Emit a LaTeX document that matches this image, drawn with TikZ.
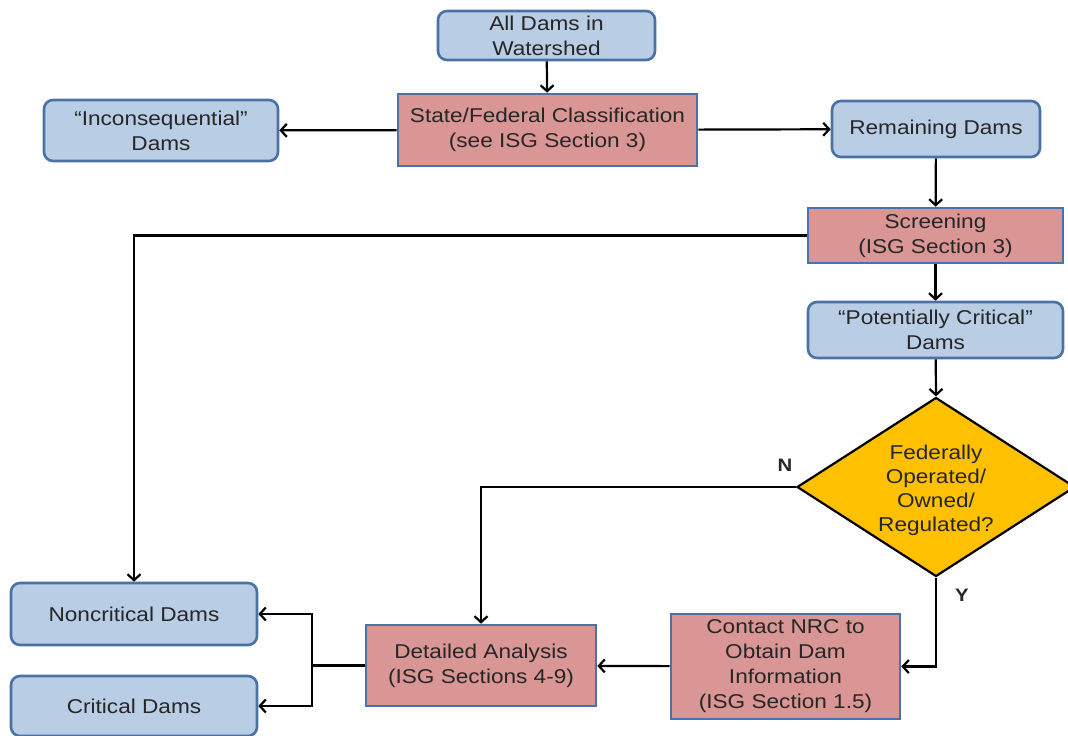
\documentclass[tikz,border=0pt]{standalone}
\usepackage{fontspec}
\setmainfont[FakeStretch=1.13]{Liberation Sans}
\usetikzlibrary{shapes.geometric,arrows.meta}
\definecolor{boxblue}{HTML}{B9CDE5}
\definecolor{boxred}{HTML}{D99694}
\definecolor{boxedge}{HTML}{4A72A6}
\definecolor{decgold}{HTML}{FFC000}
\begin{document}
\begin{tikzpicture}[x=1pt,y=-1pt,
  >={Straight Barb[length=6pt,width=13pt]},
  every node/.style={font=\fontsize{20}{25}\selectfont,align=center,text=black!85},
  blue_node/.style={rectangle,rounded corners=9pt,fill=boxblue,draw=boxedge,line width=2.6pt,inner sep=0pt},
  red_node/.style={rectangle,fill=boxred,draw=boxedge,line width=2.6pt,inner sep=0pt},
  dec_node/.style={diamond,fill=decgold,draw=black,line width=2.2pt,inner sep=0pt},
  link/.style={draw=black,line width=2.2pt}]

		\useasboundingbox (0,0) rectangle (1068,736);

		\node[blue_node,minimum width=217pt,minimum height=49pt] (all) at (546.5,35.5) {All Dams in\\Watershed};
		\node[red_node,minimum width=299pt,minimum height=72pt] (classif) at (547.5,130) {State/Federal Classification\\(see ISG Section 3)};
		\node[blue_node,minimum width=234pt,minimum height=61pt] (incons) at (161,130.5) {``Inconsequential''\\Dams};
		\node[blue_node,minimum width=208pt,minimum height=56pt] (remain) at (936,129) {Remaining Dams};
		\node[red_node,minimum width=255pt,minimum height=55pt] (screen) at (935.5,235.5) {Screening\\(ISG Section 3)};
		\node[blue_node,minimum width=255pt,minimum height=56pt] (potcrit) at (935.5,330) {``Potentially Critical''\\Dams};
		\node[dec_node,minimum width=278pt,minimum height=179pt] (dec) at (936,487) {};
		\node[font=\fontsize{20}{24}\selectfont] (dectext) at (936,490) {Federally\\Operated/\\Owned/\\Regulated?};
		\node[blue_node,minimum width=246pt,minimum height=62pt] (noncrit) at (134,614) {Noncritical Dams};
		\node[blue_node,minimum width=246pt,minimum height=60pt] (crit) at (134,706) {Critical Dams};
		\node[red_node,minimum width=230pt,minimum height=81pt] (detail) at (481,665.5) {Detailed Analysis\\(ISG Sections 4-9)};
		\node[red_node,minimum width=229pt,minimum height=105pt] (contact) at (785.5,666.5) {Contact NRC to\\Obtain Dam\\Information\\(ISG Section 1.5)};

		\node[font=\fontsize{18}{20}\selectfont\bfseries] (nlabel) at (785,465) {N};
		\node[font=\fontsize{18}{20}\selectfont\bfseries] (ylabel) at (962,595) {Y};
		\coordinate (split) at (312,665.5);

		\draw[link,->] (all) -- (classif);
		\draw[link,->] (classif) -- (incons);
		\draw[link,->] (classif) -- (remain);
		\draw[link,->] (remain) -- (screen);
		\draw[link,->] (screen.west) -| (noncrit.north);
		\draw[link,->] (screen) -- (potcrit);
		\draw[link,->] (potcrit) -- (dec.north);
		\draw[link,->] (dec.west) -| (detail.north);
		\draw[link,->] (dec.south) |- (contact.east);
		\draw[link,->] (contact) -- (detail);
		\draw[link] (detail.west) -- (split);
		\draw[link,->] (split) |- (noncrit.east);
		\draw[link,->] (split) |- (crit.east);
		\end{tikzpicture}
\end{document}
